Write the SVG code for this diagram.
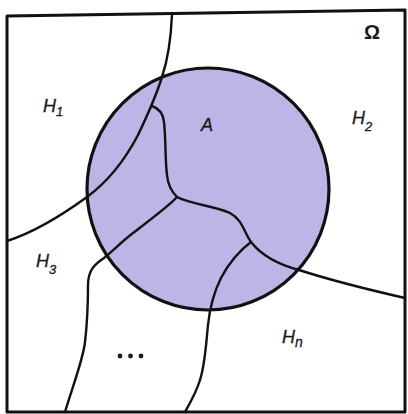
<svg xmlns="http://www.w3.org/2000/svg" width="408" height="414" viewBox="0 0 408 414">
<style>
.frame{fill:none;stroke:#111;stroke-width:3;stroke-linejoin:round}
.set{fill:#bcb5e6;stroke:#111;stroke-width:3.2}
.part{fill:none;stroke:#111;stroke-width:2.4;stroke-linecap:round;stroke-linejoin:round}
.lbl{font-family:"Liberation Sans",Arial,sans-serif;font-style:italic;font-size:18px;fill:#1a1a1a;stroke:#1a1a1a;stroke-width:0.3}
.sub{font-size:13px}
.om{font-family:"Liberation Sans",Arial,sans-serif;font-weight:bold;font-size:20px;fill:#1a1a1a}
</style>
<rect x="0" y="0" width="408" height="414" fill="#fff"/>
<g id="omega">
<path class="frame" d="M7,16 L405,10 L405,412 L7,412 Z"/>
<text class="om" x="364" y="39">Ω</text>
</g>
<g id="A">
<circle class="set" cx="208" cy="189" r="121"/>
<text class="lbl" x="201" y="131">A</text>
</g>
<g id="connectors">
<path class="part" d="M172,14 C171,40 167,62 162,77 C157,93 150,110 138,135 C126,158 110,180 87,197 C65,213 35,232 7,241"/>
<path class="part" d="M152,106 C158,108 163,112 164,122 C166,140 165,160 167,175 C168,186 172,192 177,197"/>
<path class="part" d="M177,197 C190,204 215,206 230,213 C243,220 244,233 251,242 C262,256 280,265 299,270 C330,280 370,290 405,298"/>
<path class="part" d="M251,242 C240,250 228,264 221,278 C214,292 210,305 208,325 C206,345 205,365 200,380 C196,393 190,403 185,412"/>
<path class="part" d="M177,197 C170,205 150,220 133,233 C120,243 112,252 104,258 C95,264 88,270 88,285 C88,300 87,325 85,342 C83,360 73,385 65,412"/>
</g>
<g id="H1"><text class="lbl" x="43" y="112">H<tspan class="sub" dy="4">1</tspan></text></g>
<g id="H2"><text class="lbl" x="352" y="124">H<tspan class="sub" dy="7">2</tspan></text></g>
<g id="H3"><text class="lbl" x="36" y="267">H<tspan class="sub" dy="7">3</tspan></text></g>
<g id="Hn"><text class="lbl" x="282" y="343">H<tspan font-size="14" dy="4">n</tspan></text></g>
<g id="dots" fill="#1a1a1a">
<circle cx="120" cy="356" r="2.4"/>
<circle cx="130.5" cy="356" r="2.4"/>
<circle cx="141" cy="356" r="2.4"/>
</g>
</svg>
